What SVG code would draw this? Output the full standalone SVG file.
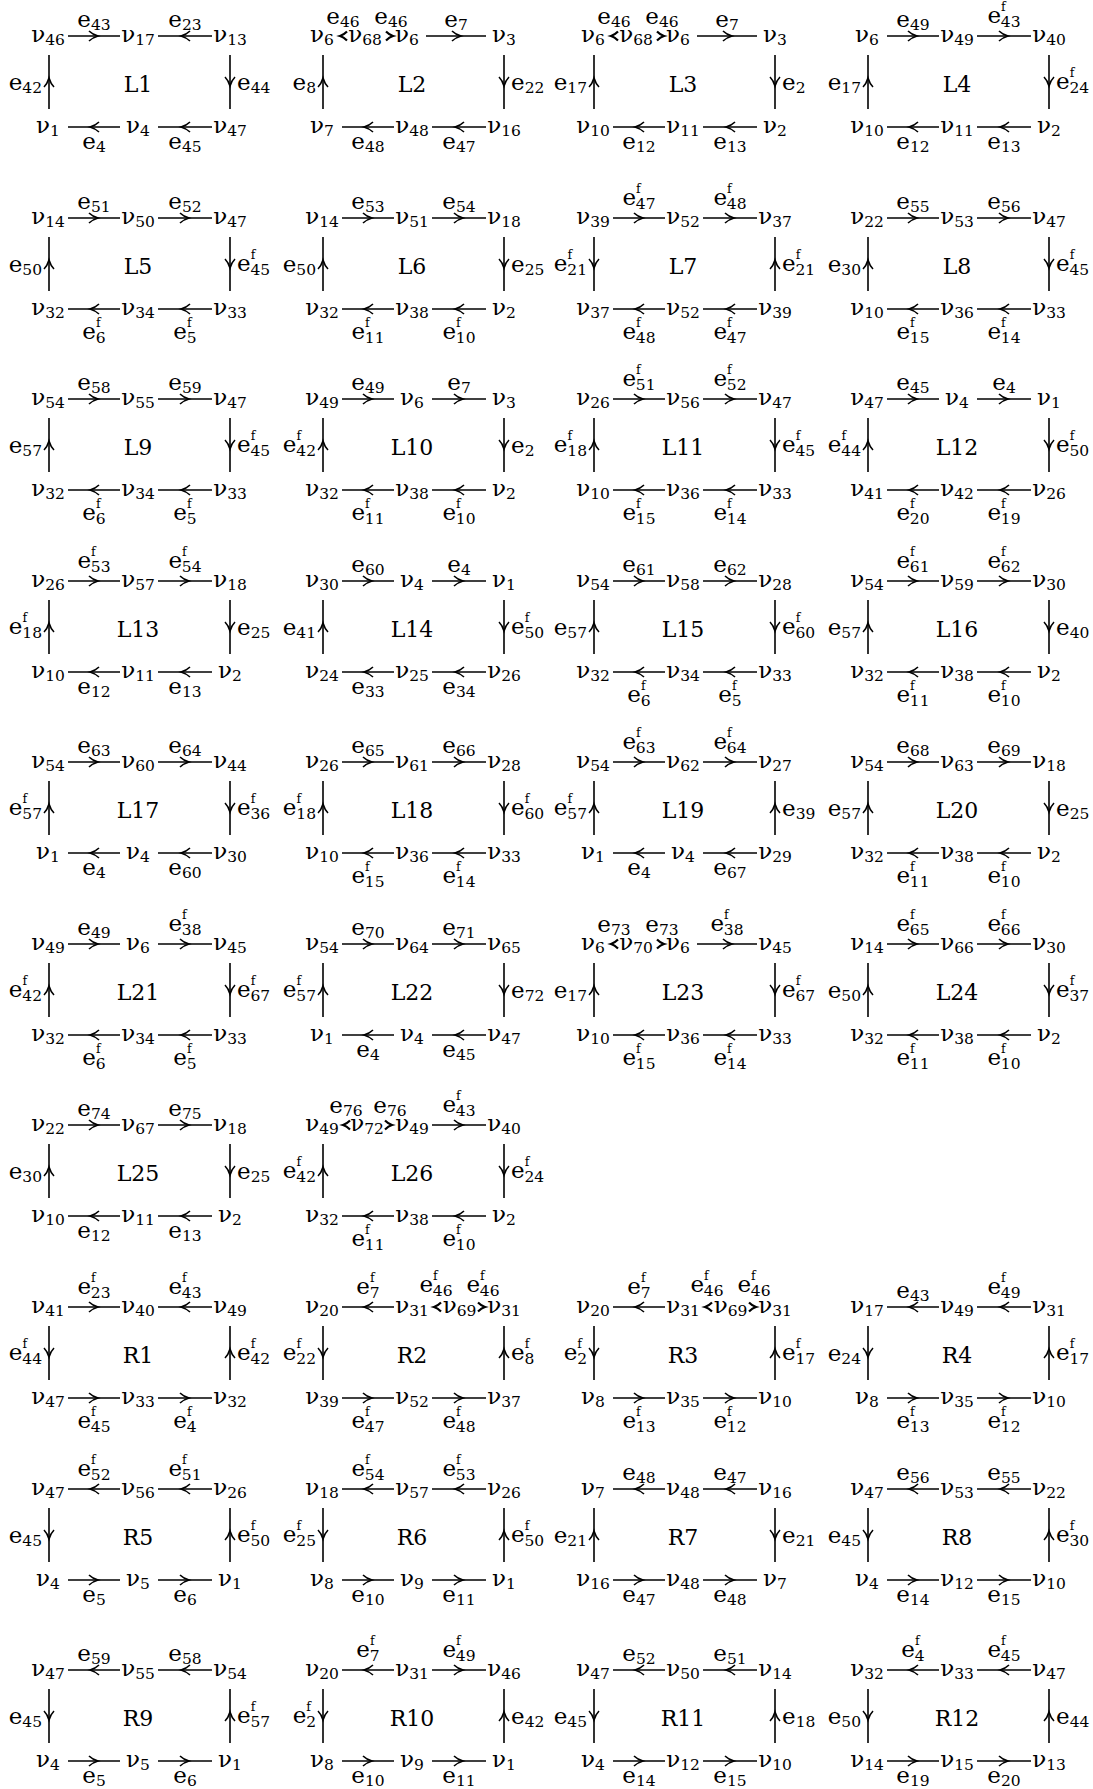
<svg xmlns="http://www.w3.org/2000/svg" width="1093" height="1789" viewBox="0 0 1093 1789">
<style>
text{font-family:"DejaVu Serif","Liberation Serif",serif;font-size:23px;text-anchor:middle;fill:#000}
tspan{font-size:15.5px}
tspan.f{font-size:12.5px}
text.L{text-anchor:end}
text.R{text-anchor:start}
text.m{font-size:22px}
path{fill:none;stroke:#000;stroke-width:1.6}
</style>
<defs>
<path id="h" d="M-9,-5C-6,-2 -2,-0.6 0,0C-2,0.6 -6,2 -9,5"/>
<path id="hs" d="M-7,-4.5C-4.5,-2 -2,-0.6 0,0C-2,0.6 -4.5,2 -7,4.5" style="stroke-width:2.2"/>
<g id="t1r"><path d="M20,0H72"/><use href="#h" x="50"/></g>
<g id="t1l"><path d="M20,0H72"/><use href="#h" transform="translate(42,0) rotate(180)"/></g>
<g id="t2r"><path d="M110,0H164"/><use href="#h" x="141"/></g>
<g id="t2l"><path d="M110,0H164"/><use href="#h" transform="translate(133,0) rotate(180)"/></g>
<g id="t2x"><path d="M104,0H164"/><use href="#h" x="139"/></g>
<g id="b1r"><path d="M20,91H72"/><use href="#h" x="50" y="91"/></g>
<g id="b1l"><path d="M20,91H72"/><use href="#h" transform="translate(42,91) rotate(180)"/></g>
<g id="b2r"><path d="M110,91H164"/><use href="#h" x="141" y="91"/></g>
<g id="b2l"><path d="M110,91H164"/><use href="#h" transform="translate(133,91) rotate(180)"/></g>
<g id="lu"><path d="M1,19V73"/><use href="#h" transform="translate(1,42) rotate(-90)"/></g>
<g id="ld"><path d="M1,19V73"/><use href="#h" transform="translate(1,50) rotate(90)"/></g>
<g id="ru"><path d="M182,19V73"/><use href="#h" transform="translate(182,42) rotate(-90)"/></g>
<g id="rd"><path d="M182,19V73"/><use href="#h" transform="translate(182,50) rotate(90)"/></g>
</defs>
<rect width="1093" height="1789" fill="#fff"/>

<g id="L1" transform="translate(48,36)">
<text x="0" y="6">ν<tspan dy="3">46</tspan></text><text x="90" y="6">ν<tspan dy="3">17</tspan></text><text x="182" y="6">ν<tspan dy="3">13</tspan></text>
<text x="0" y="97">ν<tspan dy="3">1</tspan></text><text x="90" y="97">ν<tspan dy="3">4</tspan></text><text x="182" y="97">ν<tspan dy="3">47</tspan></text>
<text class="m" x="90" y="56">L1</text>
<g class="edges"><use href="#t1r"/><use href="#t2l"/><use href="#rd"/><use href="#b2l"/><use href="#b1l"/><use href="#lu"/></g>
<text x="46" y="-9">e<tspan dy="3">43</tspan></text><text x="137" y="-9">e<tspan dy="3">23</tspan></text>
<text class="R" x="189" y="54">e<tspan dy="3">44</tspan></text><text class="L" x="-6" y="54">e<tspan dy="3">42</tspan></text>
<text x="46" y="113">e<tspan dy="3">4</tspan></text><text x="137" y="113">e<tspan dy="3">45</tspan></text>
</g>

<g id="L2" transform="translate(322,36)">
<text x="0" y="6">ν<tspan dy="3">6</tspan></text><text x="43" y="6">ν<tspan dy="3">68</tspan></text><text x="85" y="6">ν<tspan dy="3">6</tspan></text><text x="182" y="6">ν<tspan dy="3">3</tspan></text>
<text x="0" y="97">ν<tspan dy="3">7</tspan></text><text x="90" y="97">ν<tspan dy="3">48</tspan></text><text x="182" y="97">ν<tspan dy="3">16</tspan></text>
<text class="m" x="90" y="56">L2</text>
<g class="edges"><use href="#hs" transform="translate(18,0) rotate(180)"/><use href="#hs" x="71"/><use href="#t2x"/><use href="#rd"/><use href="#b2l"/><use href="#b1l"/><use href="#lu"/></g>
<text x="21" y="-12">e<tspan dy="3">46</tspan></text><text x="69" y="-12">e<tspan dy="3">46</tspan></text><text x="134" y="-9">e<tspan dy="3">7</tspan></text>
<text class="R" x="189" y="54">e<tspan dy="3">22</tspan></text><text class="L" x="-6" y="54">e<tspan dy="3">8</tspan></text>
<text x="46" y="113">e<tspan dy="3">48</tspan></text><text x="137" y="113">e<tspan dy="3">47</tspan></text>
</g>

<g id="L3" transform="translate(593,36)">
<text x="0" y="6">ν<tspan dy="3">6</tspan></text><text x="43" y="6">ν<tspan dy="3">68</tspan></text><text x="85" y="6">ν<tspan dy="3">6</tspan></text><text x="182" y="6">ν<tspan dy="3">3</tspan></text>
<text x="0" y="97">ν<tspan dy="3">10</tspan></text><text x="90" y="97">ν<tspan dy="3">11</tspan></text><text x="182" y="97">ν<tspan dy="3">2</tspan></text>
<text class="m" x="90" y="56">L3</text>
<g class="edges"><use href="#hs" transform="translate(18,0) rotate(180)"/><use href="#hs" x="71"/><use href="#t2x"/><use href="#rd"/><use href="#b2l"/><use href="#b1l"/><use href="#lu"/></g>
<text x="21" y="-12">e<tspan dy="3">46</tspan></text><text x="69" y="-12">e<tspan dy="3">46</tspan></text><text x="134" y="-9">e<tspan dy="3">7</tspan></text>
<text class="R" x="189" y="54">e<tspan dy="3">2</tspan></text><text class="L" x="-6" y="54">e<tspan dy="3">17</tspan></text>
<text x="46" y="113">e<tspan dy="3">12</tspan></text><text x="137" y="113">e<tspan dy="3">13</tspan></text>
</g>

<g id="L4" transform="translate(867,36)">
<text x="0" y="6">ν<tspan dy="3">6</tspan></text><text x="90" y="6">ν<tspan dy="3">49</tspan></text><text x="182" y="6">ν<tspan dy="3">40</tspan></text>
<text x="0" y="97">ν<tspan dy="3">10</tspan></text><text x="90" y="97">ν<tspan dy="3">11</tspan></text><text x="182" y="97">ν<tspan dy="3">2</tspan></text>
<text class="m" x="90" y="56">L4</text>
<g class="edges"><use href="#t1r"/><use href="#t2r"/><use href="#rd"/><use href="#b2l"/><use href="#b1l"/><use href="#lu"/></g>
<text x="46" y="-9">e<tspan dy="3">49</tspan></text><text x="137" y="-13">e<tspan class="f" dy="-12">f</tspan><tspan dx="-4.8" dy="16">43</tspan></text>
<text class="R" x="189" y="53">e<tspan class="f" dy="-12">f</tspan><tspan dx="-4.8" dy="16">24</tspan></text><text class="L" x="-6" y="54">e<tspan dy="3">17</tspan></text>
<text x="46" y="113">e<tspan dy="3">12</tspan></text><text x="137" y="113">e<tspan dy="3">13</tspan></text>
</g>

<g id="L5" transform="translate(48,218)">
<text x="0" y="6">ν<tspan dy="3">14</tspan></text><text x="90" y="6">ν<tspan dy="3">50</tspan></text><text x="182" y="6">ν<tspan dy="3">47</tspan></text>
<text x="0" y="97">ν<tspan dy="3">32</tspan></text><text x="90" y="97">ν<tspan dy="3">34</tspan></text><text x="182" y="97">ν<tspan dy="3">33</tspan></text>
<text class="m" x="90" y="56">L5</text>
<g class="edges"><use href="#t1r"/><use href="#t2r"/><use href="#rd"/><use href="#b2l"/><use href="#b1l"/><use href="#lu"/></g>
<text x="46" y="-9">e<tspan dy="3">51</tspan></text><text x="137" y="-9">e<tspan dy="3">52</tspan></text>
<text class="R" x="189" y="53">e<tspan class="f" dy="-12">f</tspan><tspan dx="-4.8" dy="16">45</tspan></text><text class="L" x="-6" y="54">e<tspan dy="3">50</tspan></text>
<text x="46" y="121">e<tspan class="f" dy="-12">f</tspan><tspan dx="-4.8" dy="16">6</tspan></text><text x="137" y="121">e<tspan class="f" dy="-12">f</tspan><tspan dx="-4.8" dy="16">5</tspan></text>
</g>

<g id="L6" transform="translate(322,218)">
<text x="0" y="6">ν<tspan dy="3">14</tspan></text><text x="90" y="6">ν<tspan dy="3">51</tspan></text><text x="182" y="6">ν<tspan dy="3">18</tspan></text>
<text x="0" y="97">ν<tspan dy="3">32</tspan></text><text x="90" y="97">ν<tspan dy="3">38</tspan></text><text x="182" y="97">ν<tspan dy="3">2</tspan></text>
<text class="m" x="90" y="56">L6</text>
<g class="edges"><use href="#t1r"/><use href="#t2r"/><use href="#rd"/><use href="#b2l"/><use href="#b1l"/><use href="#lu"/></g>
<text x="46" y="-9">e<tspan dy="3">53</tspan></text><text x="137" y="-9">e<tspan dy="3">54</tspan></text>
<text class="R" x="189" y="54">e<tspan dy="3">25</tspan></text><text class="L" x="-6" y="54">e<tspan dy="3">50</tspan></text>
<text x="46" y="121">e<tspan class="f" dy="-12">f</tspan><tspan dx="-4.8" dy="16">11</tspan></text><text x="137" y="121">e<tspan class="f" dy="-12">f</tspan><tspan dx="-4.8" dy="16">10</tspan></text>
</g>

<g id="L7" transform="translate(593,218)">
<text x="0" y="6">ν<tspan dy="3">39</tspan></text><text x="90" y="6">ν<tspan dy="3">52</tspan></text><text x="182" y="6">ν<tspan dy="3">37</tspan></text>
<text x="0" y="97">ν<tspan dy="3">37</tspan></text><text x="90" y="97">ν<tspan dy="3">52</tspan></text><text x="182" y="97">ν<tspan dy="3">39</tspan></text>
<text class="m" x="90" y="56">L7</text>
<g class="edges"><use href="#t1r"/><use href="#t2r"/><use href="#ru"/><use href="#b2l"/><use href="#b1l"/><use href="#ld"/></g>
<text x="46" y="-13">e<tspan class="f" dy="-12">f</tspan><tspan dx="-4.8" dy="16">47</tspan></text><text x="137" y="-13">e<tspan class="f" dy="-12">f</tspan><tspan dx="-4.8" dy="16">48</tspan></text>
<text class="R" x="189" y="53">e<tspan class="f" dy="-12">f</tspan><tspan dx="-4.8" dy="16">21</tspan></text><text class="L" x="-6" y="53">e<tspan class="f" dy="-12">f</tspan><tspan dx="-4.8" dy="16">21</tspan></text>
<text x="46" y="121">e<tspan class="f" dy="-12">f</tspan><tspan dx="-4.8" dy="16">48</tspan></text><text x="137" y="121">e<tspan class="f" dy="-12">f</tspan><tspan dx="-4.8" dy="16">47</tspan></text>
</g>

<g id="L8" transform="translate(867,218)">
<text x="0" y="6">ν<tspan dy="3">22</tspan></text><text x="90" y="6">ν<tspan dy="3">53</tspan></text><text x="182" y="6">ν<tspan dy="3">47</tspan></text>
<text x="0" y="97">ν<tspan dy="3">10</tspan></text><text x="90" y="97">ν<tspan dy="3">36</tspan></text><text x="182" y="97">ν<tspan dy="3">33</tspan></text>
<text class="m" x="90" y="56">L8</text>
<g class="edges"><use href="#t1r"/><use href="#t2r"/><use href="#rd"/><use href="#b2l"/><use href="#b1l"/><use href="#lu"/></g>
<text x="46" y="-9">e<tspan dy="3">55</tspan></text><text x="137" y="-9">e<tspan dy="3">56</tspan></text>
<text class="R" x="189" y="53">e<tspan class="f" dy="-12">f</tspan><tspan dx="-4.8" dy="16">45</tspan></text><text class="L" x="-6" y="54">e<tspan dy="3">30</tspan></text>
<text x="46" y="121">e<tspan class="f" dy="-12">f</tspan><tspan dx="-4.8" dy="16">15</tspan></text><text x="137" y="121">e<tspan class="f" dy="-12">f</tspan><tspan dx="-4.8" dy="16">14</tspan></text>
</g>

<g id="L9" transform="translate(48,399)">
<text x="0" y="6">ν<tspan dy="3">54</tspan></text><text x="90" y="6">ν<tspan dy="3">55</tspan></text><text x="182" y="6">ν<tspan dy="3">47</tspan></text>
<text x="0" y="97">ν<tspan dy="3">32</tspan></text><text x="90" y="97">ν<tspan dy="3">34</tspan></text><text x="182" y="97">ν<tspan dy="3">33</tspan></text>
<text class="m" x="90" y="56">L9</text>
<g class="edges"><use href="#t1r"/><use href="#t2r"/><use href="#rd"/><use href="#b2l"/><use href="#b1l"/><use href="#lu"/></g>
<text x="46" y="-9">e<tspan dy="3">58</tspan></text><text x="137" y="-9">e<tspan dy="3">59</tspan></text>
<text class="R" x="189" y="53">e<tspan class="f" dy="-12">f</tspan><tspan dx="-4.8" dy="16">45</tspan></text><text class="L" x="-6" y="54">e<tspan dy="3">57</tspan></text>
<text x="46" y="121">e<tspan class="f" dy="-12">f</tspan><tspan dx="-4.8" dy="16">6</tspan></text><text x="137" y="121">e<tspan class="f" dy="-12">f</tspan><tspan dx="-4.8" dy="16">5</tspan></text>
</g>

<g id="L10" transform="translate(322,399)">
<text x="0" y="6">ν<tspan dy="3">49</tspan></text><text x="90" y="6">ν<tspan dy="3">6</tspan></text><text x="182" y="6">ν<tspan dy="3">3</tspan></text>
<text x="0" y="97">ν<tspan dy="3">32</tspan></text><text x="90" y="97">ν<tspan dy="3">38</tspan></text><text x="182" y="97">ν<tspan dy="3">2</tspan></text>
<text class="m" x="90" y="56">L10</text>
<g class="edges"><use href="#t1r"/><use href="#t2r"/><use href="#rd"/><use href="#b2l"/><use href="#b1l"/><use href="#lu"/></g>
<text x="46" y="-9">e<tspan dy="3">49</tspan></text><text x="137" y="-9">e<tspan dy="3">7</tspan></text>
<text class="R" x="189" y="54">e<tspan dy="3">2</tspan></text><text class="L" x="-6" y="53">e<tspan class="f" dy="-12">f</tspan><tspan dx="-4.8" dy="16">42</tspan></text>
<text x="46" y="121">e<tspan class="f" dy="-12">f</tspan><tspan dx="-4.8" dy="16">11</tspan></text><text x="137" y="121">e<tspan class="f" dy="-12">f</tspan><tspan dx="-4.8" dy="16">10</tspan></text>
</g>

<g id="L11" transform="translate(593,399)">
<text x="0" y="6">ν<tspan dy="3">26</tspan></text><text x="90" y="6">ν<tspan dy="3">56</tspan></text><text x="182" y="6">ν<tspan dy="3">47</tspan></text>
<text x="0" y="97">ν<tspan dy="3">10</tspan></text><text x="90" y="97">ν<tspan dy="3">36</tspan></text><text x="182" y="97">ν<tspan dy="3">33</tspan></text>
<text class="m" x="90" y="56">L11</text>
<g class="edges"><use href="#t1r"/><use href="#t2r"/><use href="#rd"/><use href="#b2l"/><use href="#b1l"/><use href="#lu"/></g>
<text x="46" y="-13">e<tspan class="f" dy="-12">f</tspan><tspan dx="-4.8" dy="16">51</tspan></text><text x="137" y="-13">e<tspan class="f" dy="-12">f</tspan><tspan dx="-4.8" dy="16">52</tspan></text>
<text class="R" x="189" y="53">e<tspan class="f" dy="-12">f</tspan><tspan dx="-4.8" dy="16">45</tspan></text><text class="L" x="-6" y="53">e<tspan class="f" dy="-12">f</tspan><tspan dx="-4.8" dy="16">18</tspan></text>
<text x="46" y="121">e<tspan class="f" dy="-12">f</tspan><tspan dx="-4.8" dy="16">15</tspan></text><text x="137" y="121">e<tspan class="f" dy="-12">f</tspan><tspan dx="-4.8" dy="16">14</tspan></text>
</g>

<g id="L12" transform="translate(867,399)">
<text x="0" y="6">ν<tspan dy="3">47</tspan></text><text x="90" y="6">ν<tspan dy="3">4</tspan></text><text x="182" y="6">ν<tspan dy="3">1</tspan></text>
<text x="0" y="97">ν<tspan dy="3">41</tspan></text><text x="90" y="97">ν<tspan dy="3">42</tspan></text><text x="182" y="97">ν<tspan dy="3">26</tspan></text>
<text class="m" x="90" y="56">L12</text>
<g class="edges"><use href="#t1r"/><use href="#t2r"/><use href="#rd"/><use href="#b2l"/><use href="#b1l"/><use href="#lu"/></g>
<text x="46" y="-9">e<tspan dy="3">45</tspan></text><text x="137" y="-9">e<tspan dy="3">4</tspan></text>
<text class="R" x="189" y="53">e<tspan class="f" dy="-12">f</tspan><tspan dx="-4.8" dy="16">50</tspan></text><text class="L" x="-6" y="53">e<tspan class="f" dy="-12">f</tspan><tspan dx="-4.8" dy="16">44</tspan></text>
<text x="46" y="121">e<tspan class="f" dy="-12">f</tspan><tspan dx="-4.8" dy="16">20</tspan></text><text x="137" y="121">e<tspan class="f" dy="-12">f</tspan><tspan dx="-4.8" dy="16">19</tspan></text>
</g>

<g id="L13" transform="translate(48,581)">
<text x="0" y="6">ν<tspan dy="3">26</tspan></text><text x="90" y="6">ν<tspan dy="3">57</tspan></text><text x="182" y="6">ν<tspan dy="3">18</tspan></text>
<text x="0" y="97">ν<tspan dy="3">10</tspan></text><text x="90" y="97">ν<tspan dy="3">11</tspan></text><text x="182" y="97">ν<tspan dy="3">2</tspan></text>
<text class="m" x="90" y="56">L13</text>
<g class="edges"><use href="#t1r"/><use href="#t2r"/><use href="#rd"/><use href="#b2l"/><use href="#b1l"/><use href="#lu"/></g>
<text x="46" y="-13">e<tspan class="f" dy="-12">f</tspan><tspan dx="-4.8" dy="16">53</tspan></text><text x="137" y="-13">e<tspan class="f" dy="-12">f</tspan><tspan dx="-4.8" dy="16">54</tspan></text>
<text class="R" x="189" y="54">e<tspan dy="3">25</tspan></text><text class="L" x="-6" y="53">e<tspan class="f" dy="-12">f</tspan><tspan dx="-4.8" dy="16">18</tspan></text>
<text x="46" y="113">e<tspan dy="3">12</tspan></text><text x="137" y="113">e<tspan dy="3">13</tspan></text>
</g>

<g id="L14" transform="translate(322,581)">
<text x="0" y="6">ν<tspan dy="3">30</tspan></text><text x="90" y="6">ν<tspan dy="3">4</tspan></text><text x="182" y="6">ν<tspan dy="3">1</tspan></text>
<text x="0" y="97">ν<tspan dy="3">24</tspan></text><text x="90" y="97">ν<tspan dy="3">25</tspan></text><text x="182" y="97">ν<tspan dy="3">26</tspan></text>
<text class="m" x="90" y="56">L14</text>
<g class="edges"><use href="#t1r"/><use href="#t2r"/><use href="#rd"/><use href="#b2l"/><use href="#b1l"/><use href="#lu"/></g>
<text x="46" y="-9">e<tspan dy="3">60</tspan></text><text x="137" y="-9">e<tspan dy="3">4</tspan></text>
<text class="R" x="189" y="53">e<tspan class="f" dy="-12">f</tspan><tspan dx="-4.8" dy="16">50</tspan></text><text class="L" x="-6" y="54">e<tspan dy="3">41</tspan></text>
<text x="46" y="113">e<tspan dy="3">33</tspan></text><text x="137" y="113">e<tspan dy="3">34</tspan></text>
</g>

<g id="L15" transform="translate(593,581)">
<text x="0" y="6">ν<tspan dy="3">54</tspan></text><text x="90" y="6">ν<tspan dy="3">58</tspan></text><text x="182" y="6">ν<tspan dy="3">28</tspan></text>
<text x="0" y="97">ν<tspan dy="3">32</tspan></text><text x="90" y="97">ν<tspan dy="3">34</tspan></text><text x="182" y="97">ν<tspan dy="3">33</tspan></text>
<text class="m" x="90" y="56">L15</text>
<g class="edges"><use href="#t1r"/><use href="#t2r"/><use href="#rd"/><use href="#b2l"/><use href="#b1l"/><use href="#lu"/></g>
<text x="46" y="-9">e<tspan dy="3">61</tspan></text><text x="137" y="-9">e<tspan dy="3">62</tspan></text>
<text class="R" x="189" y="53">e<tspan class="f" dy="-12">f</tspan><tspan dx="-4.8" dy="16">60</tspan></text><text class="L" x="-6" y="54">e<tspan dy="3">57</tspan></text>
<text x="46" y="121">e<tspan class="f" dy="-12">f</tspan><tspan dx="-4.8" dy="16">6</tspan></text><text x="137" y="121">e<tspan class="f" dy="-12">f</tspan><tspan dx="-4.8" dy="16">5</tspan></text>
</g>

<g id="L16" transform="translate(867,581)">
<text x="0" y="6">ν<tspan dy="3">54</tspan></text><text x="90" y="6">ν<tspan dy="3">59</tspan></text><text x="182" y="6">ν<tspan dy="3">30</tspan></text>
<text x="0" y="97">ν<tspan dy="3">32</tspan></text><text x="90" y="97">ν<tspan dy="3">38</tspan></text><text x="182" y="97">ν<tspan dy="3">2</tspan></text>
<text class="m" x="90" y="56">L16</text>
<g class="edges"><use href="#t1r"/><use href="#t2r"/><use href="#rd"/><use href="#b2l"/><use href="#b1l"/><use href="#lu"/></g>
<text x="46" y="-13">e<tspan class="f" dy="-12">f</tspan><tspan dx="-4.8" dy="16">61</tspan></text><text x="137" y="-13">e<tspan class="f" dy="-12">f</tspan><tspan dx="-4.8" dy="16">62</tspan></text>
<text class="R" x="189" y="54">e<tspan dy="3">40</tspan></text><text class="L" x="-6" y="54">e<tspan dy="3">57</tspan></text>
<text x="46" y="121">e<tspan class="f" dy="-12">f</tspan><tspan dx="-4.8" dy="16">11</tspan></text><text x="137" y="121">e<tspan class="f" dy="-12">f</tspan><tspan dx="-4.8" dy="16">10</tspan></text>
</g>

<g id="L17" transform="translate(48,762)">
<text x="0" y="6">ν<tspan dy="3">54</tspan></text><text x="90" y="6">ν<tspan dy="3">60</tspan></text><text x="182" y="6">ν<tspan dy="3">44</tspan></text>
<text x="0" y="97">ν<tspan dy="3">1</tspan></text><text x="90" y="97">ν<tspan dy="3">4</tspan></text><text x="182" y="97">ν<tspan dy="3">30</tspan></text>
<text class="m" x="90" y="56">L17</text>
<g class="edges"><use href="#t1r"/><use href="#t2r"/><use href="#rd"/><use href="#b2l"/><use href="#b1l"/><use href="#lu"/></g>
<text x="46" y="-9">e<tspan dy="3">63</tspan></text><text x="137" y="-9">e<tspan dy="3">64</tspan></text>
<text class="R" x="189" y="53">e<tspan class="f" dy="-12">f</tspan><tspan dx="-4.8" dy="16">36</tspan></text><text class="L" x="-6" y="53">e<tspan class="f" dy="-12">f</tspan><tspan dx="-4.8" dy="16">57</tspan></text>
<text x="46" y="113">e<tspan dy="3">4</tspan></text><text x="137" y="113">e<tspan dy="3">60</tspan></text>
</g>

<g id="L18" transform="translate(322,762)">
<text x="0" y="6">ν<tspan dy="3">26</tspan></text><text x="90" y="6">ν<tspan dy="3">61</tspan></text><text x="182" y="6">ν<tspan dy="3">28</tspan></text>
<text x="0" y="97">ν<tspan dy="3">10</tspan></text><text x="90" y="97">ν<tspan dy="3">36</tspan></text><text x="182" y="97">ν<tspan dy="3">33</tspan></text>
<text class="m" x="90" y="56">L18</text>
<g class="edges"><use href="#t1r"/><use href="#t2r"/><use href="#rd"/><use href="#b2l"/><use href="#b1l"/><use href="#lu"/></g>
<text x="46" y="-9">e<tspan dy="3">65</tspan></text><text x="137" y="-9">e<tspan dy="3">66</tspan></text>
<text class="R" x="189" y="53">e<tspan class="f" dy="-12">f</tspan><tspan dx="-4.8" dy="16">60</tspan></text><text class="L" x="-6" y="53">e<tspan class="f" dy="-12">f</tspan><tspan dx="-4.8" dy="16">18</tspan></text>
<text x="46" y="121">e<tspan class="f" dy="-12">f</tspan><tspan dx="-4.8" dy="16">15</tspan></text><text x="137" y="121">e<tspan class="f" dy="-12">f</tspan><tspan dx="-4.8" dy="16">14</tspan></text>
</g>

<g id="L19" transform="translate(593,762)">
<text x="0" y="6">ν<tspan dy="3">54</tspan></text><text x="90" y="6">ν<tspan dy="3">62</tspan></text><text x="182" y="6">ν<tspan dy="3">27</tspan></text>
<text x="0" y="97">ν<tspan dy="3">1</tspan></text><text x="90" y="97">ν<tspan dy="3">4</tspan></text><text x="182" y="97">ν<tspan dy="3">29</tspan></text>
<text class="m" x="90" y="56">L19</text>
<g class="edges"><use href="#t1r"/><use href="#t2r"/><use href="#ru"/><use href="#b2l"/><use href="#b1l"/><use href="#lu"/></g>
<text x="46" y="-13">e<tspan class="f" dy="-12">f</tspan><tspan dx="-4.8" dy="16">63</tspan></text><text x="137" y="-13">e<tspan class="f" dy="-12">f</tspan><tspan dx="-4.8" dy="16">64</tspan></text>
<text class="R" x="189" y="54">e<tspan dy="3">39</tspan></text><text class="L" x="-6" y="53">e<tspan class="f" dy="-12">f</tspan><tspan dx="-4.8" dy="16">57</tspan></text>
<text x="46" y="113">e<tspan dy="3">4</tspan></text><text x="137" y="113">e<tspan dy="3">67</tspan></text>
</g>

<g id="L20" transform="translate(867,762)">
<text x="0" y="6">ν<tspan dy="3">54</tspan></text><text x="90" y="6">ν<tspan dy="3">63</tspan></text><text x="182" y="6">ν<tspan dy="3">18</tspan></text>
<text x="0" y="97">ν<tspan dy="3">32</tspan></text><text x="90" y="97">ν<tspan dy="3">38</tspan></text><text x="182" y="97">ν<tspan dy="3">2</tspan></text>
<text class="m" x="90" y="56">L20</text>
<g class="edges"><use href="#t1r"/><use href="#t2r"/><use href="#rd"/><use href="#b2l"/><use href="#b1l"/><use href="#lu"/></g>
<text x="46" y="-9">e<tspan dy="3">68</tspan></text><text x="137" y="-9">e<tspan dy="3">69</tspan></text>
<text class="R" x="189" y="54">e<tspan dy="3">25</tspan></text><text class="L" x="-6" y="54">e<tspan dy="3">57</tspan></text>
<text x="46" y="121">e<tspan class="f" dy="-12">f</tspan><tspan dx="-4.8" dy="16">11</tspan></text><text x="137" y="121">e<tspan class="f" dy="-12">f</tspan><tspan dx="-4.8" dy="16">10</tspan></text>
</g>

<g id="L21" transform="translate(48,944)">
<text x="0" y="6">ν<tspan dy="3">49</tspan></text><text x="90" y="6">ν<tspan dy="3">6</tspan></text><text x="182" y="6">ν<tspan dy="3">45</tspan></text>
<text x="0" y="97">ν<tspan dy="3">32</tspan></text><text x="90" y="97">ν<tspan dy="3">34</tspan></text><text x="182" y="97">ν<tspan dy="3">33</tspan></text>
<text class="m" x="90" y="56">L21</text>
<g class="edges"><use href="#t1r"/><use href="#t2r"/><use href="#rd"/><use href="#b2l"/><use href="#b1l"/><use href="#lu"/></g>
<text x="46" y="-9">e<tspan dy="3">49</tspan></text><text x="137" y="-13">e<tspan class="f" dy="-12">f</tspan><tspan dx="-4.8" dy="16">38</tspan></text>
<text class="R" x="189" y="53">e<tspan class="f" dy="-12">f</tspan><tspan dx="-4.8" dy="16">67</tspan></text><text class="L" x="-6" y="53">e<tspan class="f" dy="-12">f</tspan><tspan dx="-4.8" dy="16">42</tspan></text>
<text x="46" y="121">e<tspan class="f" dy="-12">f</tspan><tspan dx="-4.8" dy="16">6</tspan></text><text x="137" y="121">e<tspan class="f" dy="-12">f</tspan><tspan dx="-4.8" dy="16">5</tspan></text>
</g>

<g id="L22" transform="translate(322,944)">
<text x="0" y="6">ν<tspan dy="3">54</tspan></text><text x="90" y="6">ν<tspan dy="3">64</tspan></text><text x="182" y="6">ν<tspan dy="3">65</tspan></text>
<text x="0" y="97">ν<tspan dy="3">1</tspan></text><text x="90" y="97">ν<tspan dy="3">4</tspan></text><text x="182" y="97">ν<tspan dy="3">47</tspan></text>
<text class="m" x="90" y="56">L22</text>
<g class="edges"><use href="#t1r"/><use href="#t2r"/><use href="#rd"/><use href="#b2l"/><use href="#b1l"/><use href="#lu"/></g>
<text x="46" y="-9">e<tspan dy="3">70</tspan></text><text x="137" y="-9">e<tspan dy="3">71</tspan></text>
<text class="R" x="189" y="54">e<tspan dy="3">72</tspan></text><text class="L" x="-6" y="53">e<tspan class="f" dy="-12">f</tspan><tspan dx="-4.8" dy="16">57</tspan></text>
<text x="46" y="113">e<tspan dy="3">4</tspan></text><text x="137" y="113">e<tspan dy="3">45</tspan></text>
</g>

<g id="L23" transform="translate(593,944)">
<text x="0" y="6">ν<tspan dy="3">6</tspan></text><text x="43" y="6">ν<tspan dy="3">70</tspan></text><text x="85" y="6">ν<tspan dy="3">6</tspan></text><text x="182" y="6">ν<tspan dy="3">45</tspan></text>
<text x="0" y="97">ν<tspan dy="3">10</tspan></text><text x="90" y="97">ν<tspan dy="3">36</tspan></text><text x="182" y="97">ν<tspan dy="3">33</tspan></text>
<text class="m" x="90" y="56">L23</text>
<g class="edges"><use href="#hs" transform="translate(18,0) rotate(180)"/><use href="#hs" x="71"/><use href="#t2x"/><use href="#rd"/><use href="#b2l"/><use href="#b1l"/><use href="#lu"/></g>
<text x="21" y="-12">e<tspan dy="3">73</tspan></text><text x="69" y="-12">e<tspan dy="3">73</tspan></text><text x="134" y="-13">e<tspan class="f" dy="-12">f</tspan><tspan dx="-4.8" dy="16">38</tspan></text>
<text class="R" x="189" y="53">e<tspan class="f" dy="-12">f</tspan><tspan dx="-4.8" dy="16">67</tspan></text><text class="L" x="-6" y="54">e<tspan dy="3">17</tspan></text>
<text x="46" y="121">e<tspan class="f" dy="-12">f</tspan><tspan dx="-4.8" dy="16">15</tspan></text><text x="137" y="121">e<tspan class="f" dy="-12">f</tspan><tspan dx="-4.8" dy="16">14</tspan></text>
</g>

<g id="L24" transform="translate(867,944)">
<text x="0" y="6">ν<tspan dy="3">14</tspan></text><text x="90" y="6">ν<tspan dy="3">66</tspan></text><text x="182" y="6">ν<tspan dy="3">30</tspan></text>
<text x="0" y="97">ν<tspan dy="3">32</tspan></text><text x="90" y="97">ν<tspan dy="3">38</tspan></text><text x="182" y="97">ν<tspan dy="3">2</tspan></text>
<text class="m" x="90" y="56">L24</text>
<g class="edges"><use href="#t1r"/><use href="#t2r"/><use href="#rd"/><use href="#b2l"/><use href="#b1l"/><use href="#lu"/></g>
<text x="46" y="-13">e<tspan class="f" dy="-12">f</tspan><tspan dx="-4.8" dy="16">65</tspan></text><text x="137" y="-13">e<tspan class="f" dy="-12">f</tspan><tspan dx="-4.8" dy="16">66</tspan></text>
<text class="R" x="189" y="53">e<tspan class="f" dy="-12">f</tspan><tspan dx="-4.8" dy="16">37</tspan></text><text class="L" x="-6" y="54">e<tspan dy="3">50</tspan></text>
<text x="46" y="121">e<tspan class="f" dy="-12">f</tspan><tspan dx="-4.8" dy="16">11</tspan></text><text x="137" y="121">e<tspan class="f" dy="-12">f</tspan><tspan dx="-4.8" dy="16">10</tspan></text>
</g>

<g id="L25" transform="translate(48,1125)">
<text x="0" y="6">ν<tspan dy="3">22</tspan></text><text x="90" y="6">ν<tspan dy="3">67</tspan></text><text x="182" y="6">ν<tspan dy="3">18</tspan></text>
<text x="0" y="97">ν<tspan dy="3">10</tspan></text><text x="90" y="97">ν<tspan dy="3">11</tspan></text><text x="182" y="97">ν<tspan dy="3">2</tspan></text>
<text class="m" x="90" y="56">L25</text>
<g class="edges"><use href="#t1r"/><use href="#t2r"/><use href="#rd"/><use href="#b2l"/><use href="#b1l"/><use href="#lu"/></g>
<text x="46" y="-9">e<tspan dy="3">74</tspan></text><text x="137" y="-9">e<tspan dy="3">75</tspan></text>
<text class="R" x="189" y="54">e<tspan dy="3">25</tspan></text><text class="L" x="-6" y="54">e<tspan dy="3">30</tspan></text>
<text x="46" y="113">e<tspan dy="3">12</tspan></text><text x="137" y="113">e<tspan dy="3">13</tspan></text>
</g>

<g id="L26" transform="translate(322,1125)">
<text x="0" y="6">ν<tspan dy="3">49</tspan></text><text x="45" y="6">ν<tspan dy="3">72</tspan></text><text x="90" y="6">ν<tspan dy="3">49</tspan></text><text x="182" y="6">ν<tspan dy="3">40</tspan></text>
<text x="0" y="97">ν<tspan dy="3">32</tspan></text><text x="90" y="97">ν<tspan dy="3">38</tspan></text><text x="182" y="97">ν<tspan dy="3">2</tspan></text>
<text class="m" x="90" y="56">L26</text>
<g class="edges"><use href="#hs" transform="translate(21,0) rotate(180)"/><use href="#hs" x="70"/><use href="#t2r"/><use href="#rd"/><use href="#b2l"/><use href="#b1l"/><use href="#lu"/></g>
<text x="24" y="-12">e<tspan dy="3">76</tspan></text><text x="68" y="-12">e<tspan dy="3">76</tspan></text><text x="137" y="-13">e<tspan class="f" dy="-12">f</tspan><tspan dx="-4.8" dy="16">43</tspan></text>
<text class="R" x="189" y="53">e<tspan class="f" dy="-12">f</tspan><tspan dx="-4.8" dy="16">24</tspan></text><text class="L" x="-6" y="53">e<tspan class="f" dy="-12">f</tspan><tspan dx="-4.8" dy="16">42</tspan></text>
<text x="46" y="121">e<tspan class="f" dy="-12">f</tspan><tspan dx="-4.8" dy="16">11</tspan></text><text x="137" y="121">e<tspan class="f" dy="-12">f</tspan><tspan dx="-4.8" dy="16">10</tspan></text>
</g>

<g id="R1" transform="translate(48,1307)">
<text x="0" y="6">ν<tspan dy="3">41</tspan></text><text x="90" y="6">ν<tspan dy="3">40</tspan></text><text x="182" y="6">ν<tspan dy="3">49</tspan></text>
<text x="0" y="97">ν<tspan dy="3">47</tspan></text><text x="90" y="97">ν<tspan dy="3">33</tspan></text><text x="182" y="97">ν<tspan dy="3">32</tspan></text>
<text class="m" x="90" y="56">R1</text>
<g class="edges"><use href="#t1r"/><use href="#t2l"/><use href="#ru"/><use href="#b2r"/><use href="#b1r"/><use href="#ld"/></g>
<text x="46" y="-13">e<tspan class="f" dy="-12">f</tspan><tspan dx="-4.8" dy="16">23</tspan></text><text x="137" y="-13">e<tspan class="f" dy="-12">f</tspan><tspan dx="-4.8" dy="16">43</tspan></text>
<text class="R" x="189" y="53">e<tspan class="f" dy="-12">f</tspan><tspan dx="-4.8" dy="16">42</tspan></text><text class="L" x="-6" y="53">e<tspan class="f" dy="-12">f</tspan><tspan dx="-4.8" dy="16">44</tspan></text>
<text x="46" y="121">e<tspan class="f" dy="-12">f</tspan><tspan dx="-4.8" dy="16">45</tspan></text><text x="137" y="121">e<tspan class="f" dy="-12">f</tspan><tspan dx="-4.8" dy="16">4</tspan></text>
</g>

<g id="R2" transform="translate(322,1307)">
<text x="0" y="6">ν<tspan dy="3">20</tspan></text><text x="90" y="6">ν<tspan dy="3">31</tspan></text><text x="137.5" y="6">ν<tspan dy="3">69</tspan></text><text x="182" y="6">ν<tspan dy="3">31</tspan></text>
<text x="0" y="97">ν<tspan dy="3">39</tspan></text><text x="90" y="97">ν<tspan dy="3">52</tspan></text><text x="182" y="97">ν<tspan dy="3">37</tspan></text>
<text class="m" x="90" y="56">R2</text>
<g class="edges"><use href="#t1l"/><use href="#hs" transform="translate(112,0) rotate(180)"/><use href="#hs" x="163"/><use href="#ru"/><use href="#b2r"/><use href="#b1r"/><use href="#ld"/></g>
<text x="46" y="-13">e<tspan class="f" dy="-12">f</tspan><tspan dx="-4.8" dy="16">7</tspan></text><text x="114" y="-15">e<tspan class="f" dy="-12">f</tspan><tspan dx="-4.8" dy="16">46</tspan></text><text x="161" y="-15">e<tspan class="f" dy="-12">f</tspan><tspan dx="-4.8" dy="16">46</tspan></text>
<text class="R" x="189" y="53">e<tspan class="f" dy="-12">f</tspan><tspan dx="-4.8" dy="16">8</tspan></text><text class="L" x="-6" y="53">e<tspan class="f" dy="-12">f</tspan><tspan dx="-4.8" dy="16">22</tspan></text>
<text x="46" y="121">e<tspan class="f" dy="-12">f</tspan><tspan dx="-4.8" dy="16">47</tspan></text><text x="137" y="121">e<tspan class="f" dy="-12">f</tspan><tspan dx="-4.8" dy="16">48</tspan></text>
</g>

<g id="R3" transform="translate(593,1307)">
<text x="0" y="6">ν<tspan dy="3">20</tspan></text><text x="90" y="6">ν<tspan dy="3">31</tspan></text><text x="137.5" y="6">ν<tspan dy="3">69</tspan></text><text x="182" y="6">ν<tspan dy="3">31</tspan></text>
<text x="0" y="97">ν<tspan dy="3">8</tspan></text><text x="90" y="97">ν<tspan dy="3">35</tspan></text><text x="182" y="97">ν<tspan dy="3">10</tspan></text>
<text class="m" x="90" y="56">R3</text>
<g class="edges"><use href="#t1l"/><use href="#hs" transform="translate(112,0) rotate(180)"/><use href="#hs" x="163"/><use href="#ru"/><use href="#b2r"/><use href="#b1r"/><use href="#ld"/></g>
<text x="46" y="-13">e<tspan class="f" dy="-12">f</tspan><tspan dx="-4.8" dy="16">7</tspan></text><text x="114" y="-15">e<tspan class="f" dy="-12">f</tspan><tspan dx="-4.8" dy="16">46</tspan></text><text x="161" y="-15">e<tspan class="f" dy="-12">f</tspan><tspan dx="-4.8" dy="16">46</tspan></text>
<text class="R" x="189" y="53">e<tspan class="f" dy="-12">f</tspan><tspan dx="-4.8" dy="16">17</tspan></text><text class="L" x="-6" y="53">e<tspan class="f" dy="-12">f</tspan><tspan dx="-4.8" dy="16">2</tspan></text>
<text x="46" y="121">e<tspan class="f" dy="-12">f</tspan><tspan dx="-4.8" dy="16">13</tspan></text><text x="137" y="121">e<tspan class="f" dy="-12">f</tspan><tspan dx="-4.8" dy="16">12</tspan></text>
</g>

<g id="R4" transform="translate(867,1307)">
<text x="0" y="6">ν<tspan dy="3">17</tspan></text><text x="90" y="6">ν<tspan dy="3">49</tspan></text><text x="182" y="6">ν<tspan dy="3">31</tspan></text>
<text x="0" y="97">ν<tspan dy="3">8</tspan></text><text x="90" y="97">ν<tspan dy="3">35</tspan></text><text x="182" y="97">ν<tspan dy="3">10</tspan></text>
<text class="m" x="90" y="56">R4</text>
<g class="edges"><use href="#t1l"/><use href="#t2l"/><use href="#ru"/><use href="#b2r"/><use href="#b1r"/><use href="#ld"/></g>
<text x="46" y="-9">e<tspan dy="3">43</tspan></text><text x="137" y="-13">e<tspan class="f" dy="-12">f</tspan><tspan dx="-4.8" dy="16">49</tspan></text>
<text class="R" x="189" y="53">e<tspan class="f" dy="-12">f</tspan><tspan dx="-4.8" dy="16">17</tspan></text><text class="L" x="-6" y="54">e<tspan dy="3">24</tspan></text>
<text x="46" y="121">e<tspan class="f" dy="-12">f</tspan><tspan dx="-4.8" dy="16">13</tspan></text><text x="137" y="121">e<tspan class="f" dy="-12">f</tspan><tspan dx="-4.8" dy="16">12</tspan></text>
</g>

<g id="R5" transform="translate(48,1489)">
<text x="0" y="6">ν<tspan dy="3">47</tspan></text><text x="90" y="6">ν<tspan dy="3">56</tspan></text><text x="182" y="6">ν<tspan dy="3">26</tspan></text>
<text x="0" y="97">ν<tspan dy="3">4</tspan></text><text x="90" y="97">ν<tspan dy="3">5</tspan></text><text x="182" y="97">ν<tspan dy="3">1</tspan></text>
<text class="m" x="90" y="56">R5</text>
<g class="edges"><use href="#t1l"/><use href="#t2l"/><use href="#ru"/><use href="#b2r"/><use href="#b1r"/><use href="#ld"/></g>
<text x="46" y="-13">e<tspan class="f" dy="-12">f</tspan><tspan dx="-4.8" dy="16">52</tspan></text><text x="137" y="-13">e<tspan class="f" dy="-12">f</tspan><tspan dx="-4.8" dy="16">51</tspan></text>
<text class="R" x="189" y="53">e<tspan class="f" dy="-12">f</tspan><tspan dx="-4.8" dy="16">50</tspan></text><text class="L" x="-6" y="54">e<tspan dy="3">45</tspan></text>
<text x="46" y="113">e<tspan dy="3">5</tspan></text><text x="137" y="113">e<tspan dy="3">6</tspan></text>
</g>

<g id="R6" transform="translate(322,1489)">
<text x="0" y="6">ν<tspan dy="3">18</tspan></text><text x="90" y="6">ν<tspan dy="3">57</tspan></text><text x="182" y="6">ν<tspan dy="3">26</tspan></text>
<text x="0" y="97">ν<tspan dy="3">8</tspan></text><text x="90" y="97">ν<tspan dy="3">9</tspan></text><text x="182" y="97">ν<tspan dy="3">1</tspan></text>
<text class="m" x="90" y="56">R6</text>
<g class="edges"><use href="#t1l"/><use href="#t2l"/><use href="#ru"/><use href="#b2r"/><use href="#b1r"/><use href="#ld"/></g>
<text x="46" y="-13">e<tspan class="f" dy="-12">f</tspan><tspan dx="-4.8" dy="16">54</tspan></text><text x="137" y="-13">e<tspan class="f" dy="-12">f</tspan><tspan dx="-4.8" dy="16">53</tspan></text>
<text class="R" x="189" y="53">e<tspan class="f" dy="-12">f</tspan><tspan dx="-4.8" dy="16">50</tspan></text><text class="L" x="-6" y="53">e<tspan class="f" dy="-12">f</tspan><tspan dx="-4.8" dy="16">25</tspan></text>
<text x="46" y="113">e<tspan dy="3">10</tspan></text><text x="137" y="113">e<tspan dy="3">11</tspan></text>
</g>

<g id="R7" transform="translate(593,1489)">
<text x="0" y="6">ν<tspan dy="3">7</tspan></text><text x="90" y="6">ν<tspan dy="3">48</tspan></text><text x="182" y="6">ν<tspan dy="3">16</tspan></text>
<text x="0" y="97">ν<tspan dy="3">16</tspan></text><text x="90" y="97">ν<tspan dy="3">48</tspan></text><text x="182" y="97">ν<tspan dy="3">7</tspan></text>
<text class="m" x="90" y="56">R7</text>
<g class="edges"><use href="#t1l"/><use href="#t2l"/><use href="#rd"/><use href="#b2r"/><use href="#b1r"/><use href="#lu"/></g>
<text x="46" y="-9">e<tspan dy="3">48</tspan></text><text x="137" y="-9">e<tspan dy="3">47</tspan></text>
<text class="R" x="189" y="54">e<tspan dy="3">21</tspan></text><text class="L" x="-6" y="54">e<tspan dy="3">21</tspan></text>
<text x="46" y="113">e<tspan dy="3">47</tspan></text><text x="137" y="113">e<tspan dy="3">48</tspan></text>
</g>

<g id="R8" transform="translate(867,1489)">
<text x="0" y="6">ν<tspan dy="3">47</tspan></text><text x="90" y="6">ν<tspan dy="3">53</tspan></text><text x="182" y="6">ν<tspan dy="3">22</tspan></text>
<text x="0" y="97">ν<tspan dy="3">4</tspan></text><text x="90" y="97">ν<tspan dy="3">12</tspan></text><text x="182" y="97">ν<tspan dy="3">10</tspan></text>
<text class="m" x="90" y="56">R8</text>
<g class="edges"><use href="#t1l"/><use href="#t2l"/><use href="#ru"/><use href="#b2r"/><use href="#b1r"/><use href="#ld"/></g>
<text x="46" y="-9">e<tspan dy="3">56</tspan></text><text x="137" y="-9">e<tspan dy="3">55</tspan></text>
<text class="R" x="189" y="53">e<tspan class="f" dy="-12">f</tspan><tspan dx="-4.8" dy="16">30</tspan></text><text class="L" x="-6" y="54">e<tspan dy="3">45</tspan></text>
<text x="46" y="113">e<tspan dy="3">14</tspan></text><text x="137" y="113">e<tspan dy="3">15</tspan></text>
</g>

<g id="R9" transform="translate(48,1670)">
<text x="0" y="6">ν<tspan dy="3">47</tspan></text><text x="90" y="6">ν<tspan dy="3">55</tspan></text><text x="182" y="6">ν<tspan dy="3">54</tspan></text>
<text x="0" y="97">ν<tspan dy="3">4</tspan></text><text x="90" y="97">ν<tspan dy="3">5</tspan></text><text x="182" y="97">ν<tspan dy="3">1</tspan></text>
<text class="m" x="90" y="56">R9</text>
<g class="edges"><use href="#t1l"/><use href="#t2l"/><use href="#ru"/><use href="#b2r"/><use href="#b1r"/><use href="#ld"/></g>
<text x="46" y="-9">e<tspan dy="3">59</tspan></text><text x="137" y="-9">e<tspan dy="3">58</tspan></text>
<text class="R" x="189" y="53">e<tspan class="f" dy="-12">f</tspan><tspan dx="-4.8" dy="16">57</tspan></text><text class="L" x="-6" y="54">e<tspan dy="3">45</tspan></text>
<text x="46" y="113">e<tspan dy="3">5</tspan></text><text x="137" y="113">e<tspan dy="3">6</tspan></text>
</g>

<g id="R10" transform="translate(322,1670)">
<text x="0" y="6">ν<tspan dy="3">20</tspan></text><text x="90" y="6">ν<tspan dy="3">31</tspan></text><text x="182" y="6">ν<tspan dy="3">46</tspan></text>
<text x="0" y="97">ν<tspan dy="3">8</tspan></text><text x="90" y="97">ν<tspan dy="3">9</tspan></text><text x="182" y="97">ν<tspan dy="3">1</tspan></text>
<text class="m" x="90" y="56">R10</text>
<g class="edges"><use href="#t1l"/><use href="#t2r"/><use href="#ru"/><use href="#b2r"/><use href="#b1r"/><use href="#ld"/></g>
<text x="46" y="-13">e<tspan class="f" dy="-12">f</tspan><tspan dx="-4.8" dy="16">7</tspan></text><text x="137" y="-13">e<tspan class="f" dy="-12">f</tspan><tspan dx="-4.8" dy="16">49</tspan></text>
<text class="R" x="189" y="54">e<tspan dy="3">42</tspan></text><text class="L" x="-6" y="53">e<tspan class="f" dy="-12">f</tspan><tspan dx="-4.8" dy="16">2</tspan></text>
<text x="46" y="113">e<tspan dy="3">10</tspan></text><text x="137" y="113">e<tspan dy="3">11</tspan></text>
</g>

<g id="R11" transform="translate(593,1670)">
<text x="0" y="6">ν<tspan dy="3">47</tspan></text><text x="90" y="6">ν<tspan dy="3">50</tspan></text><text x="182" y="6">ν<tspan dy="3">14</tspan></text>
<text x="0" y="97">ν<tspan dy="3">4</tspan></text><text x="90" y="97">ν<tspan dy="3">12</tspan></text><text x="182" y="97">ν<tspan dy="3">10</tspan></text>
<text class="m" x="90" y="56">R11</text>
<g class="edges"><use href="#t1l"/><use href="#t2l"/><use href="#ru"/><use href="#b2r"/><use href="#b1r"/><use href="#ld"/></g>
<text x="46" y="-9">e<tspan dy="3">52</tspan></text><text x="137" y="-9">e<tspan dy="3">51</tspan></text>
<text class="R" x="189" y="54">e<tspan dy="3">18</tspan></text><text class="L" x="-6" y="54">e<tspan dy="3">45</tspan></text>
<text x="46" y="113">e<tspan dy="3">14</tspan></text><text x="137" y="113">e<tspan dy="3">15</tspan></text>
</g>

<g id="R12" transform="translate(867,1670)">
<text x="0" y="6">ν<tspan dy="3">32</tspan></text><text x="90" y="6">ν<tspan dy="3">33</tspan></text><text x="182" y="6">ν<tspan dy="3">47</tspan></text>
<text x="0" y="97">ν<tspan dy="3">14</tspan></text><text x="90" y="97">ν<tspan dy="3">15</tspan></text><text x="182" y="97">ν<tspan dy="3">13</tspan></text>
<text class="m" x="90" y="56">R12</text>
<g class="edges"><use href="#t1l"/><use href="#t2l"/><use href="#ru"/><use href="#b2r"/><use href="#b1r"/><use href="#ld"/></g>
<text x="46" y="-13">e<tspan class="f" dy="-12">f</tspan><tspan dx="-4.8" dy="16">4</tspan></text><text x="137" y="-13">e<tspan class="f" dy="-12">f</tspan><tspan dx="-4.8" dy="16">45</tspan></text>
<text class="R" x="189" y="54">e<tspan dy="3">44</tspan></text><text class="L" x="-6" y="54">e<tspan dy="3">50</tspan></text>
<text x="46" y="113">e<tspan dy="3">19</tspan></text><text x="137" y="113">e<tspan dy="3">20</tspan></text>
</g>
</svg>
